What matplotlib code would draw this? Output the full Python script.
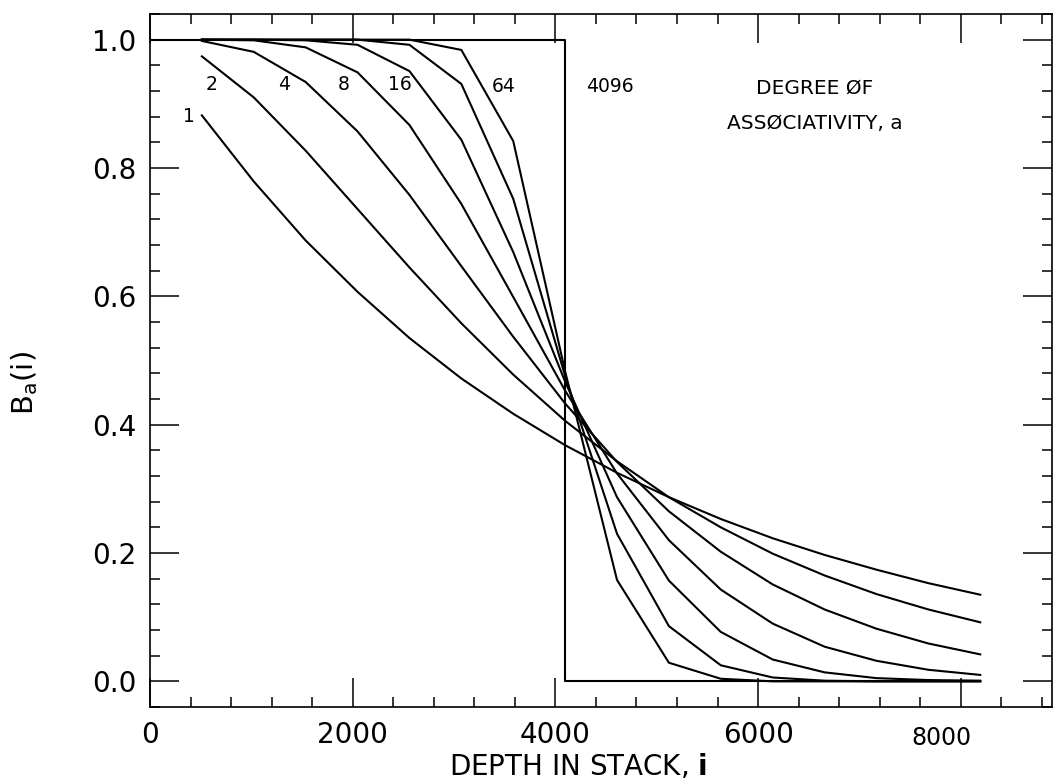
import matplotlib
matplotlib.use('Agg')
import matplotlib.pyplot as plt
from matplotlib.ticker import MultipleLocator, FixedLocator, FormatStrFormatter
from matplotlib import font_manager

# ---------------- data ----------------
depth = [512, 1024, 1536, 2048, 2560, 3072, 3584, 4096,
         4608, 5120, 5632, 6144, 6656, 7168, 7680, 8192]

hit_a1 = [0.882, 0.779, 0.687, 0.607, 0.535, 0.472, 0.417, 0.368,
          0.325, 0.287, 0.253, 0.223, 0.197, 0.174, 0.153, 0.135]
hit_a2 = [0.974, 0.910, 0.827, 0.736, 0.645, 0.558, 0.478, 0.406,
          0.343, 0.287, 0.240, 0.199, 0.165, 0.136, 0.112, 0.092]
hit_a4 = [0.998, 0.981, 0.934, 0.857, 0.758, 0.647, 0.537, 0.433,
          0.342, 0.265, 0.202, 0.151, 0.112, 0.082, 0.059, 0.042]
hit_a8 = [1.000, 0.999, 0.988, 0.949, 0.867, 0.744, 0.599, 0.453,
          0.324, 0.220, 0.143, 0.090, 0.054, 0.032, 0.018, 0.010]
hit_a16 = [1.000, 1.000, 0.999, 0.992, 0.951, 0.844, 0.669, 0.467,
           0.287, 0.157, 0.077, 0.034, 0.014, 0.005, 0.002, 0.001]
hit_a32 = [1.000, 1.000, 1.000, 1.000, 0.992, 0.931, 0.752, 0.476,
           0.230, 0.086, 0.025, 0.006, 0.001, 0.000, 0.000, 0.000]
hit_a64 = [1.000, 1.000, 1.000, 1.000, 1.000, 0.984, 0.842, 0.483,
           0.158, 0.029, 0.004, 0.000, 0.000, 0.000, 0.000, 0.000]

depth_full = [0, 4096, 4096, 8192]
hit_full = [1.0, 1.0, 0.0, 0.0]

curve_labels = ["1", "2", "4", "8", "16", "64", "4096"]
label_x = [385, 612, 1323, 1915, 2468, 3485, 4541]
label_y = [0.881, 0.930, 0.930, 0.930, 0.930, 0.927, 0.927]

xtick_vals = [0, 2000, 4000, 6000, 8000]
xtick_text = ["0", "2000", "4000", "6000", ""]
ytick_vals = [0.0, 0.2, 0.4, 0.6, 0.8, 1.0]

# ---------------- figure ----------------
plt.rcParams['font.family'] = ['DejaVu Sans']
plt.rcParams['mathtext.fontset'] = 'dejavusans'

W, H = 1053, 783
fig = plt.figure(figsize=(W / 100, H / 100), dpi=100)
fig.patch.set_facecolor('white')
ax = fig.add_axes([150 / W, (H - 707) / H, 902 / W, 693 / H])

lw = 1.5
for ys in (hit_a1, hit_a2, hit_a4, hit_a8, hit_a16, hit_a32, hit_a64):
    ax.plot(depth, ys, color='black', lw=lw, solid_joinstyle='miter')
ax.plot(depth_full, hit_full, color='black', lw=lw)

ax.set_xlim(0, 8900)
ax.set_ylim(-0.04, 1.04)

ax.xaxis.set_major_locator(FixedLocator(xtick_vals))
ax.set_xticklabels(xtick_text)
ax.xaxis.set_minor_locator(MultipleLocator(400))
ax.yaxis.set_major_locator(FixedLocator(ytick_vals))
ax.yaxis.set_major_formatter(FormatStrFormatter('%.1f'))
ax.yaxis.set_minor_locator(MultipleLocator(0.04))

ax.tick_params(which='both', direction='in', top=True, right=True,
               width=1.1, color='black')
ax.tick_params(which='major', length=21, labelsize=20)
ax.tick_params(which='minor', length=7.5)
ax.tick_params(axis='x', which='major', pad=10)
ax.tick_params(axis='y', which='major', pad=10)

for s in ax.spines.values():
    s.set_linewidth(1.2)
    s.set_color('black')

# 8000 label in a narrower face, as in the original
names = {f.name for f in font_manager.fontManager.ttflist}
if 'Liberation Sans Narrow' in names:
    fig.text(941 / W, 1 - 738 / H, "8000", ha='center', va='center',
             fontsize=21, family=['Liberation Sans Narrow', 'DejaVu Sans'])
else:
    fig.text(941 / W, 1 - 738 / H, "8000", ha='center', va='center',
             fontsize=17)

# curve labels
for t, x, y in zip(curve_labels, label_x, label_y):
    ax.text(x, y, t, ha='center', va='center', fontsize=13.5)

ax.text(6555, 0.925, "DEGREE ØF", ha='center', va='center', fontsize=14.5)
ax.text(6555, 0.869, "ASSØCIATIVITY, a", ha='center', va='center', fontsize=14.5)

# axis titles
fig.text(578 / W, 1 - 767 / H, r"DEPTH IN STACK, $\mathbf{i}$",
         ha='center', va='center', fontsize=20)
fig.text(25 / W, 1 - 383 / H, r"$\mathrm{B_a(i)}$", rotation=90,
         ha='center', va='center', fontsize=21)

fig.savefig('out.png', dpi=100, facecolor='white')
